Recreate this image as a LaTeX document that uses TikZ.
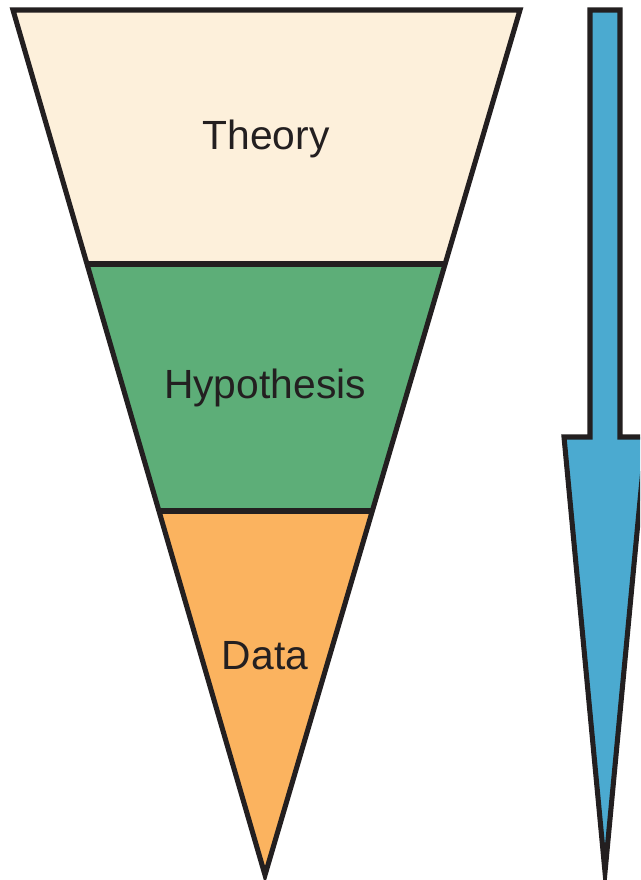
\documentclass[tikz,border=0pt]{standalone}
\usepackage{fontspec}
\setsansfont{Liberation Sans}
\usetikzlibrary{positioning}
\definecolor{theorycol}{HTML}{FDF0DB}
\definecolor{hypocol}{HTML}{5DAE78}
\definecolor{datacol}{HTML}{FBB35F}
\definecolor{arrowcol}{HTML}{4BAAD0}
\definecolor{inkcol}{HTML}{231F20}
\begin{document}
\begin{tikzpicture}[
  x=0.025cm, y=-0.025cm,
  font=\sffamily\fontsize{29}{34}\selectfont,
  band/.style={draw=inkcol, line width=3.6pt, line join=miter, miter limit=20},
  label/.style={text=inkcol, inner sep=0pt}
]
  \clip (0,0) rectangle (640,880);
  \fill[white] (0,0) rectangle (640,880);

  % corners of the funnel
  \coordinate (tl) at (13,10);
  \coordinate (tr) at (520,10);
  \coordinate (apex) at (265,875);
  \coordinate (ml1) at (88,264);
  \coordinate (mr1) at (444,264);
  \coordinate (ml2) at (160,511);
  \coordinate (mr2) at (372,511);

  % bands
  \fill[theorycol] (tl) -- (tr) -- (mr1) -- (ml1) -- cycle;
  \fill[hypocol] (ml1) -- (mr1) -- (mr2) -- (ml2) -- cycle;
  \fill[datacol] (ml2) -- (mr2) -- (apex) -- cycle;
  \draw[band] (ml1) -- (mr1);
  \draw[band] (ml2) -- (mr2);
  \draw[band] (tl) -- (tr) -- (apex) -- cycle;

  \node[label] (theory) at (266,139) {Theory};
  \node[label] (hypothesis) at (265,388) {Hypothesis};
  \node[label] (data) at (265,656) {Data};

  % downward arrow
  \draw[band, fill=arrowcol] (590,10) -- (620,10) -- (620,437) -- (646,437)
    -- (605,872) -- (564,437) -- (590,437) -- cycle;
\end{tikzpicture}
\end{document}
